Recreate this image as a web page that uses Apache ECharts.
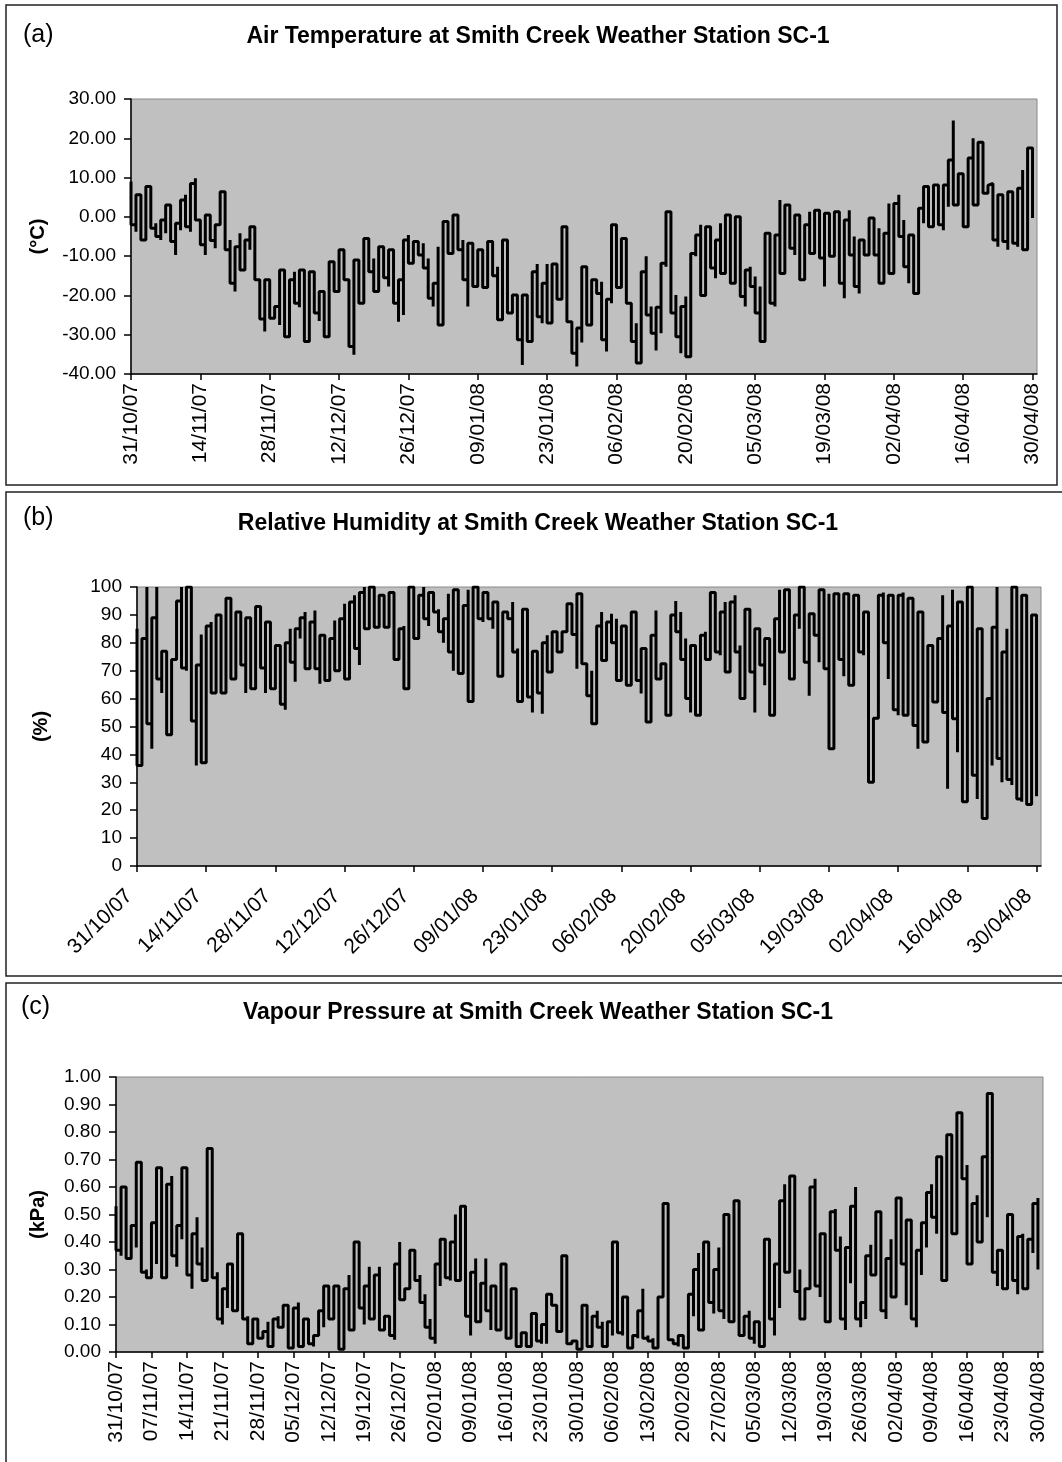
<!DOCTYPE html>
<html>
<head>
<meta charset="utf-8">
<title>Smith Creek Weather Station SC-1</title>
<script src="https://cdn.jsdelivr.net/npm/echarts@6.0.0/dist/echarts.min.js"></script>
<style>
  html, body { margin: 0; padding: 0; background: #fff; }
  #chart { width: 1062px; height: 1462px; }
</style>
</head>
<body>
<div id="chart"></div>
<script>
// day 0 = 31/10/07 ... day 182 = 30/04/08
// each day: highest and lowest reading of that day

var tempHigh = [
  9, 5.6, 3, 7.7, 3.4, -1.6, -0.8, 3, 3, -1.6, 4.3, 5.6, 8.5, 9.8,
  -0.8, 0.5, 0.5, -2, 6.4, 1.3, -5.9, -7.6, -4.2, -5.9, -2.5, -3.8, -16, -16,
  -16, -22.8, -13.5, -20.3, -16, -14, -13.5, -13.5, -14, -14, -19, -20.3, -11.4, -13,
  -8.4, -8.8, -16, -11, -11, -5.5, -11, -10.6, -7.6, -7.6, -8.4, -16, -16, -5.9,
  -4.6, -6.3, -5.9, -6.7, -10.6, -16.9, -7.6, -1.2, -0.8, 0.5, 0.1, -5.9, -6.7, -9,
  -8.4, -10, -6.3, -10, -12.7, -5.9, -10.6, -19.9, -24.5, -19.9, -21.1, -14, -12, -16.9,
  -12, -12, -16, -2.5, -9.7, -26.7, -28.3, -12.7, -13, -16, -17, -16.5, -21, -2,
  -4, -5.5, -11, -22, -27.1, -14, -10, -22.8, -23, -11.8, 1.3, -2, -19.9, -22.8,
  -20.3, -9.3, -4.6, -2, -2.5, -5.9, -5.9, -1.6, 0.5, -9.7, 0, -3.4, -13.5, -12.7,
  -15.2, -17.7, -4.2, -5, -4.6, 4.3, 3, 1.3, 0.5, -2.5, -2, 1.3, 1.7, 1.3,
  0.9, -1.6, 1.3, -3.4, -0.8, 1.7, -5, -5.9, -6.7, -0.3, -0.8, -2.9, -4.2, 3.4,
  3.4, 5.6, -0.8, -4.6, -5.9, 2.2, 7.7, 7.7, 8.1, 6.8, 8.1, 14.5, 24.5, 11,
  7.3, 15, 20, 19, 17.5, 8.5, 6, 5.6, 6, 6.4, 6.8, 7.3, 11.9, 17.5, 15.3
];
var tempLow = [
  -2, -3.8, -5.9, -5.5, -2.9, -5, -5.9, -4.2, -6.3, -9.7, -3.4, -2.5, -3.8, -0.8,
  -7.1, -9.7, -6, -8, -1.6, -8.4, -16.9, -19, -13.5, -13, -8.4, -16, -26, -29.2,
  -25.8, -25, -27.5, -30.5, -22.4, -22, -23, -31.7, -31.7, -24.5, -26.5, -30.5, -29.6, -19,
  -19.4, -16, -33, -35.1, -22, -12.7, -14, -19, -17.7, -15.5, -17.7, -22, -26.7, -25,
  -11.8, -11.8, -9.7, -13, -20.7, -22.8, -27.5, -10, -9.3, -9.3, -8.4, -16, -22.8, -17.7,
  -18, -18, -15, -15, -26.2, -16, -24.5, -24.5, -31.3, -37.7, -31.7, -25.4, -25.4, -27.1,
  -27, -20, -21, -16.9, -26.7, -34.7, -38.1, -32, -27.5, -19, -19.5, -31.3, -34.3, -22,
  -18, -17.7, -22, -31.7, -37.2, -27, -25, -29.6, -34, -29.6, -12.7, -24.5, -30.5, -34.7,
  -35.6, -26.7, -10, -20, -15.2, -13, -15.6, -14.4, -10, -16.9, -12.3, -20.3, -22.8, -17.7,
  -24.5, -31.7, -29.6, -22, -22.8, -14.4, -7.6, -8, -9.7, -16, -15.2, -9.3, -9.3, -10.5,
  -17.7, -10, -9.3, -16.9, -20.7, -9.7, -17.7, -19.5, -9.7, -8.4, -9.7, -16.9, -13.5, -14.4,
  -11.8, -5, -12.7, -16.9, -19.5, -6.7, -1.6, -2.5, 0, -2, -3.4, 2.6, 3, 2.6,
  -2.5, -2.9, 3, 4.7, 6, 8, -5.9, -7.6, -6.3, -8.4, -6.7, -7.6, -8.4, -0.8, -0.3
];

var rhHigh = [
  85, 81.5, 100, 89, 100, 77, 75, 74, 95, 100, 100, 89, 72, 83,
  86, 87.5, 90, 85, 96, 91, 91, 90, 89, 85, 93, 93, 87.5, 77,
  79, 79, 80, 85, 85, 89, 91, 87.5, 91.6, 82.7, 81.5, 81.5, 88, 88.6,
  94, 94.6, 97, 98, 100, 100, 100, 97, 96, 98, 87, 85, 86, 100,
  93.4, 97, 100, 98, 96.4, 92, 88.6, 97.6, 99, 99, 93.4, 99, 100, 96,
  98, 97.6, 94.6, 94, 91, 90.4, 94.6, 78, 92, 74, 77, 77, 80, 82.7,
  84, 81.5, 84, 94, 91, 97.6, 91.6, 69.5, 70, 86, 91, 87.5, 90.4, 88.6,
  86, 86, 91, 90.4, 78, 71.3, 82.7, 91.6, 72.5, 73, 90, 95, 91, 81.5,
  79, 73, 82.7, 84, 98, 97, 91, 94.6, 94.6, 97, 79, 92, 86, 85,
  84, 81.5, 80, 88.6, 99, 99, 96, 90, 100, 96.4, 90.4, 90, 99, 97,
  97.6, 97.6, 97, 97.6, 92, 97, 96, 91, 62, 53, 97, 98, 97, 91,
  97, 98, 96, 92, 91, 90, 79, 78, 81.5, 97, 86, 99, 94.6, 73,
  100, 91, 85, 68, 60, 85.6, 100, 76.7, 85, 100, 84, 97, 97, 90, 74
];
var rhLow = [
  36, 50.4, 51, 42, 67, 62, 47, 55, 77, 71, 70, 52, 36, 37,
  66, 62, 73, 62, 70, 67, 71, 72, 62, 63.5, 73, 71, 62, 63.5,
  63.5, 58, 56, 73, 66, 81.5, 70.7, 71.3, 70.7, 65.3, 66.5, 66.5, 70, 78,
  67, 68, 78, 72, 85, 87.5, 85.6, 86, 85.6, 85.6, 74, 74, 63.5, 78,
  81.5, 84, 88.6, 86, 91, 84, 80, 76.7, 70, 69, 76.7, 59, 69.5, 88.6,
  87.5, 88.6, 85, 68, 82.7, 88.6, 76.7, 59, 64.8, 60.6, 55, 62, 54.6, 69.5,
  71, 76.7, 76.7, 85, 83, 70.7, 72.5, 61, 51, 70, 73.7, 76.7, 80, 66.5,
  76.7, 64.8, 66, 66.5, 61.8, 51.6, 67, 67, 66.5, 54, 72, 84, 74, 60,
  55, 54, 60.6, 74, 76.7, 76.7, 75.5, 69.5, 73.7, 76.7, 60, 76.7, 69.5, 55,
  72, 64.8, 54, 68, 76.7, 76.7, 67, 67, 85, 73, 61, 82.7, 73, 70.7,
  42, 85, 74, 68, 64.8, 69.5, 76.7, 75.5, 30, 48, 62, 80, 67, 56,
  54, 54, 82.7, 50.4, 42, 44.4, 64.8, 58.8, 64.8, 55, 27.7, 52.8, 40.8, 23,
  91, 32.5, 24, 17, 26.5, 36, 38.5, 30, 31, 29, 24, 23, 22, 25, 25
];

var vpHigh = [
  0.53, 0.60, 0.60, 0.46, 0.69, 0.38, 0.30, 0.47, 0.67, 0.52, 0.61, 0.64, 0.46, 0.67,
  0.44, 0.43, 0.49, 0.38, 0.74, 0.49, 0.29, 0.23, 0.32, 0.31, 0.43, 0.39, 0.13, 0.12,
  0.12, 0.075, 0.11, 0.12, 0.13, 0.17, 0.17, 0.16, 0.18, 0.12, 0.08, 0.06, 0.15, 0.24,
  0.24, 0.24, 0.12, 0.23, 0.28, 0.40, 0.29, 0.24, 0.31, 0.28, 0.31, 0.13, 0.13, 0.32,
  0.40, 0.23, 0.37, 0.37, 0.28, 0.21, 0.12, 0.32, 0.41, 0.35, 0.40, 0.50, 0.53, 0.42,
  0.29, 0.34, 0.25, 0.34, 0.24, 0.18, 0.32, 0.13, 0.23, 0.05, 0.07, 0.07, 0.14, 0.12,
  0.10, 0.21, 0.20, 0.17, 0.35, 0.23, 0.04, 0.03, 0.17, 0.17, 0.13, 0.15, 0.11, 0.11,
  0.40, 0.26, 0.20, 0.06, 0.06, 0.15, 0.23, 0.06, 0.05, 0.20, 0.54, 0.43, 0.045, 0.06,
  0.06, 0.21, 0.30, 0.36, 0.40, 0.32, 0.30, 0.38, 0.50, 0.20, 0.55, 0.39, 0.13, 0.15,
  0.11, 0.07, 0.41, 0.35, 0.32, 0.55, 0.61, 0.64, 0.60, 0.30, 0.23, 0.60, 0.63, 0.43,
  0.30, 0.51, 0.52, 0.42, 0.38, 0.53, 0.60, 0.18, 0.35, 0.39, 0.51, 0.41, 0.34, 0.41,
  0.56, 0.56, 0.48, 0.23, 0.37, 0.47, 0.58, 0.61, 0.71, 0.53, 0.79, 0.66, 0.87, 0.85,
  0.68, 0.54, 0.57, 0.71, 0.94, 0.91, 0.37, 0.34, 0.50, 0.34, 0.42, 0.43, 0.41, 0.54, 0.56
];
var vpLow = [
  0.37, 0.35, 0.34, 0.35, 0.38, 0.29, 0.27, 0.29, 0.32, 0.27, 0.41, 0.35, 0.31, 0.41,
  0.28, 0.23, 0.32, 0.26, 0.32, 0.27, 0.12, 0.10, 0.16, 0.15, 0.30, 0.12, 0.03, 0.03,
  0.05, 0.05, 0.02, 0.06, 0.09, 0.13, 0.015, 0.02, 0.02, 0.05, 0.03, 0.02, 0.06, 0.09,
  0.12, 0.12, 0.01, 0.01, 0.08, 0.08, 0.16, 0.10, 0.12, 0.12, 0.08, 0.08, 0.06, 0.045,
  0.19, 0.19, 0.26, 0.26, 0.18, 0.09, 0.05, 0.03, 0.24, 0.27, 0.26, 0.26, 0.26, 0.13,
  0.06, 0.11, 0.11, 0.15, 0.08, 0.08, 0.08, 0.05, 0.05, 0.02, 0.015, 0.02, 0.045, 0.04,
  0.03, 0.03, 0.17, 0.075, 0.12, 0.03, 0.03, 0.01, 0.015, 0.02, 0.03, 0.09, 0.02, 0.02,
  0.06, 0.07, 0.06, 0.015, 0.03, 0.05, 0.05, 0.04, 0.015, 0.02, 0.20, 0.045, 0.03, 0.02,
  0.015, 0.03, 0.13, 0.08, 0.15, 0.18, 0.14, 0.15, 0.12, 0.11, 0.16, 0.06, 0.06, 0.05,
  0.03, 0.02, 0.02, 0.12, 0.06, 0.16, 0.29, 0.51, 0.22, 0.12, 0.18, 0.23, 0.24, 0.20,
  0.11, 0.19, 0.37, 0.12, 0.08, 0.25, 0.12, 0.09, 0.12, 0.28, 0.38, 0.15, 0.12, 0.20,
  0.21, 0.32, 0.17, 0.12, 0.09, 0.28, 0.38, 0.49, 0.43, 0.26, 0.47, 0.43, 0.48, 0.63,
  0.32, 0.35, 0.40, 0.46, 0.49, 0.29, 0.24, 0.23, 0.26, 0.26, 0.21, 0.23, 0.25, 0.36, 0.30
];

// tick positions (days after 31/10/07)
var fortnightTicks = [0, 14, 28, 42, 56, 70, 84, 98, 112, 126, 140, 154, 168, 182];
var weekTicks = [0, 7, 14, 21, 28, 35, 42, 49, 56, 63, 70, 77, 84, 91, 98, 105, 112,
  119, 126, 133, 140, 147, 154, 161, 168, 175, 182];

var FONT = 'Liberation Sans, Arial, sans-serif';

function dayLabel(d) {
  var t = new Date(Date.UTC(2007, 9, 31 + d));
  var dd = ('0' + t.getUTCDate()).slice(-2);
  var mm = ('0' + (t.getUTCMonth() + 1)).slice(-2);
  var yy = String(t.getUTCFullYear()).slice(-2);
  return dd + '/' + mm + '/' + yy;
}

// all readings of one day sit on the same x, so each day is a vertical stroke
// joined to the next day at the level where it ended
function dailyPath(hi, lo) {
  var pts = [], last = null;
  for (var d = 0; d < hi.length; d++) {
    var a = hi[d], b = lo[d];
    if (last !== null) {
      pts.push([d, last]);
      if (Math.abs(b - last) < Math.abs(a - last)) { var t = a; a = b; b = t; }
    }
    pts.push([d, a], [d, b]);
    last = b;
  }
  return pts;
}

var axisColor = '#000';

function xAxisFor(i, ticks, rotate, max, margin, pad) {
  return {
    type: 'value', gridIndex: i, min: 0, max: max,
    axisLine: { onZero: false, lineStyle: { color: axisColor, width: 1.5 } },
    axisTick: { customValues: ticks, length: 6, lineStyle: { color: axisColor, width: 1.5 } },
    axisLabel: {
      customValues: ticks, rotate: rotate, margin: margin, padding: pad, color: '#000',
      fontFamily: FONT, fontSize: 21, formatter: dayLabel
    },
    splitLine: { show: false }
  };
}

function yAxisFor(i, min, max, step, name, gap, digits) {
  return {
    type: 'value', gridIndex: i, min: min, max: max, interval: step,
    name: name, nameLocation: 'middle', nameRotate: 90, nameGap: gap,
    nameTextStyle: { fontFamily: FONT, fontSize: 20, fontWeight: 'bold', color: '#000' },
    axisLine: { show: true, onZero: false, lineStyle: { color: axisColor, width: 1.5 } },
    axisTick: { show: true, length: 7, lineStyle: { color: axisColor, width: 1.5 } },
    axisLabel: {
      margin: 15, color: '#000', fontFamily: FONT, fontSize: 19,
      formatter: function (v) { return digits ? v.toFixed(digits) : String(v); }
    },
    splitLine: { show: false }
  };
}

function lineSeries(i, data) {
  return {
    type: 'line', xAxisIndex: i, yAxisIndex: i, data: data,
    symbol: 'none', showSymbol: false, animation: false,
    lineStyle: { color: '#000', width: 3 }
  };
}

function titleFor(text, top) {
  return {
    text: text, left: 538, top: top, textAlign: 'center', padding: 0,
    textStyle: { fontFamily: FONT, fontSize: 23, fontWeight: 'bold', color: '#000' }
  };
}

var gridStyle = { show: true, backgroundColor: '#c0c0c0', borderColor: '#888', borderWidth: 1 };

var chart = echarts.init(document.getElementById('chart'), null, { renderer: 'canvas' });
chart.setOption({
  animation: false,
  backgroundColor: '#fff',
  title: [
    titleFor('Air Temperature at Smith Creek Weather Station SC-1', 25),
    titleFor('Relative Humidity at Smith Creek Weather Station SC-1', 512),
    titleFor('Vapour Pressure at Smith Creek Weather Station SC-1', 1001)
  ],
  grid: [
    Object.assign({ left: 131, top: 99, width: 906, height: 275 }, gridStyle),
    Object.assign({ left: 137, top: 587, width: 904, height: 279 }, gridStyle),
    Object.assign({ left: 116, top: 1077, width: 927, height: 275 }, gridStyle)
  ],
  xAxis: [
    xAxisFor(0, fortnightTicks, 90, 182.9, 9, 0),
    xAxisFor(1, fortnightTicks, 45, 182.9, 19, [0, 11, 0, 0]),
    xAxisFor(2, weekTicks, 90, 183, 9, 0)
  ],
  yAxis: [
    yAxisFor(0, -40, 30, 10, '(°C)', 83, 2),
    yAxisFor(1, 0, 100, 10, '(%)', 86, 0),
    yAxisFor(2, 0, 1, 0.1, '(kPa)', 68, 2)
  ],
  series: [
    lineSeries(0, dailyPath(tempHigh, tempLow)),
    lineSeries(1, dailyPath(rhHigh, rhLow)),
    lineSeries(2, dailyPath(vpHigh, vpLow))
  ],
  graphic: [
    { type: 'rect', shape: { x: 6, y: 5, width: 1051, height: 480 },
      style: { fill: null, stroke: '#222', lineWidth: 1.5 } },
    { type: 'rect', shape: { x: 6, y: 492, width: 1070, height: 484 },
      style: { fill: null, stroke: '#222', lineWidth: 1.5 } },
    { type: 'rect', shape: { x: 6, y: 983, width: 1070, height: 490 },
      style: { fill: null, stroke: '#222', lineWidth: 1.5 } },
    { type: 'text', x: 23, y: 35, style: { text: '(a)', font: '25px ' + FONT, fill: '#000', verticalAlign: 'middle' } },
    { type: 'text', x: 23, y: 518, style: { text: '(b)', font: '25px ' + FONT, fill: '#000', verticalAlign: 'middle' } },
    { type: 'text', x: 21, y: 1007, style: { text: '(c)', font: '25px ' + FONT, fill: '#000', verticalAlign: 'middle' } }
  ]
});
window.addEventListener('resize', function () { chart.resize(); });
</script>
</body>
</html>
